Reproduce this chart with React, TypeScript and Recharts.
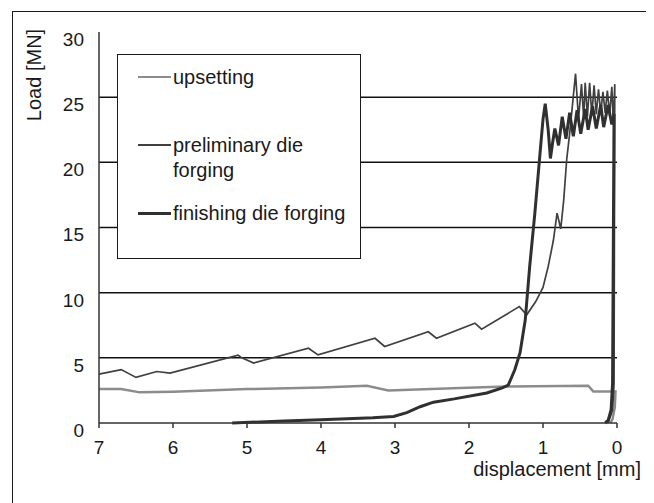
import { LineChart, Line, XAxis, YAxis, ReferenceLine, Label } from 'recharts';

// displacement [mm] / load [MN]
const upsetting = [
  { x: 7.0, y: 2.6 }, { x: 6.7, y: 2.6 }, { x: 6.45, y: 2.35 }, { x: 6.0, y: 2.4 },
  { x: 5.0, y: 2.6 }, { x: 4.0, y: 2.72 }, { x: 3.38, y: 2.86 }, { x: 3.09, y: 2.5 },
  { x: 2.12, y: 2.68 }, { x: 1.5, y: 2.8 }, { x: 0.39, y: 2.86 }, { x: 0.32, y: 2.42 },
  { x: 0.02, y: 2.42 }, { x: 0.03, y: 1.2 }, { x: 0.06, y: 0.3 }, { x: 0.09, y: 0 },
];

const preliminary = [
  { x: 7.0, y: 3.75 }, { x: 6.7, y: 4.1 }, { x: 6.5, y: 3.5 }, { x: 6.22, y: 3.95 },
  { x: 6.04, y: 3.83 }, { x: 5.12, y: 5.2 }, { x: 5.07, y: 5.0 }, { x: 4.91, y: 4.6 },
  { x: 4.17, y: 5.74 }, { x: 4.04, y: 5.23 }, { x: 3.27, y: 6.5 }, { x: 3.14, y: 5.87 },
  { x: 2.55, y: 7.0 }, { x: 2.44, y: 6.5 }, { x: 1.92, y: 7.66 }, { x: 1.83, y: 7.2 },
  { x: 1.32, y: 8.93 }, { x: 1.22, y: 8.3 }, { x: 1.1, y: 9.3 }, { x: 1.0, y: 10.4 },
  { x: 0.93, y: 12.0 }, { x: 0.86, y: 14.0 }, { x: 0.81, y: 16.1 }, { x: 0.76, y: 14.9 },
  { x: 0.72, y: 17.1 }, { x: 0.68, y: 20.2 }, { x: 0.64, y: 22.2 }, { x: 0.6, y: 24.5 },
  { x: 0.56, y: 26.8 }, { x: 0.52, y: 23.3 }, { x: 0.48, y: 26.0 }, { x: 0.45, y: 23.4 },
  { x: 0.43, y: 26.1 }, { x: 0.4, y: 23.5 }, { x: 0.37, y: 26.1 }, { x: 0.34, y: 23.6 },
  { x: 0.31, y: 25.9 }, { x: 0.28, y: 23.7 }, { x: 0.25, y: 25.6 }, { x: 0.22, y: 23.8 },
  { x: 0.19, y: 25.4 }, { x: 0.16, y: 23.8 }, { x: 0.13, y: 25.5 }, { x: 0.1, y: 23.6 },
  { x: 0.07, y: 25.8 }, { x: 0.05, y: 23.0 }, { x: 0.03, y: 26.0 }, { x: 0.04, y: 3.0 },
  { x: 0.06, y: 1.0 }, { x: 0.12, y: 0 },
];

const finishing = [
  { x: 5.2, y: 0 }, { x: 4.5, y: 0.15 }, { x: 4.0, y: 0.25 }, { x: 3.3, y: 0.4 },
  { x: 3.02, y: 0.5 }, { x: 2.84, y: 0.8 }, { x: 2.66, y: 1.25 }, { x: 2.48, y: 1.6 },
  { x: 2.2, y: 1.85 }, { x: 1.76, y: 2.3 }, { x: 1.55, y: 2.7 }, { x: 1.47, y: 2.9 },
  { x: 1.38, y: 4.1 }, { x: 1.31, y: 5.4 }, { x: 1.24, y: 7.9 }, { x: 1.18, y: 12.0 },
  { x: 1.11, y: 16.1 }, { x: 1.04, y: 20.7 }, { x: 1.0, y: 23.3 }, { x: 0.97, y: 24.5 },
  { x: 0.93, y: 22.5 }, { x: 0.9, y: 20.3 }, { x: 0.87, y: 21.5 }, { x: 0.84, y: 22.6 },
  { x: 0.79, y: 21.3 }, { x: 0.74, y: 23.5 }, { x: 0.69, y: 21.8 }, { x: 0.64, y: 23.8 },
  { x: 0.59, y: 22.0 }, { x: 0.54, y: 24.0 }, { x: 0.49, y: 22.2 }, { x: 0.43, y: 24.1 },
  { x: 0.39, y: 22.5 }, { x: 0.33, y: 24.3 }, { x: 0.28, y: 22.6 }, { x: 0.22, y: 24.4 },
  { x: 0.18, y: 22.7 }, { x: 0.12, y: 24.4 }, { x: 0.07, y: 22.9 }, { x: 0.04, y: 23.7 },
  { x: 0.06, y: 3.0 }, { x: 0.08, y: 1.0 }, { x: 0.12, y: 0.2 }, { x: 0.16, y: 0 },
];

const xTicks = [0, 1, 2, 3, 4, 5, 6, 7];
const yTicks = [0, 5, 10, 15, 20, 25, 30];
const gridLevels = [5, 10, 15, 20, 25];

const FONT = '"Liberation Sans", Arial, sans-serif';
const INK = '#1a1a1a';

const series = [
  { key: 'upsetting', data: upsetting, name: 'upsetting', color: '#8c8c8c', width: 2.5 },
  { key: 'preliminary', data: preliminary, name: 'preliminary die forging', color: '#404040', width: 1.7 },
  { key: 'finishing', data: finishing, name: 'finishing die forging', color: '#303030', width: 3 },
];

function YTick({ x, y, payload }: any) {
  return (
    <text x={x} y={y + 7} dy="0.36em" textAnchor="end" fontSize={19} fontFamily={FONT} fill={INK}>
      {payload.value}
    </text>
  );
}

function XTick({ x, y, payload }: any) {
  return (
    <text x={x} y={y} dy="0.72em" textAnchor="middle" fontSize={19} fontFamily={FONT} fill={INK}>
      {payload.value}
    </text>
  );
}

// legend box drawn over the plot, like the original figure
function LegendBox() {
  const row = (top: number, color: string, width: number, lines: string[]) => (
    <div style={{ position: 'absolute', left: 20, top, display: 'flex' }}>
      <div style={{ width: 33, height: width, background: color, marginTop: 12 - width / 2 }} />
      <div style={{ marginLeft: 2, lineHeight: '25px', fontSize: 20 }}>
        {lines.map((l) => (
          <div key={l}>{l}</div>
        ))}
      </div>
    </div>
  );
  return (
    <div
      style={{
        position: 'absolute',
        left: 109,
        top: 46,
        width: 244,
        height: 205,
        boxSizing: 'border-box',
        border: `1.5px solid ${INK}`,
        background: '#fff',
        fontFamily: FONT,
        color: INK,
      }}
    >
      {row(10, series[0].color, 2.5, [series[0].name])}
      {row(78, series[1].color, 1.7, ['preliminary die', 'forging'])}
      {row(146, series[2].color, 3, [series[2].name])}
    </div>
  );
}

export default function App() {
  return (
    <div style={{ position: 'relative', width: 646, height: 495, background: '#fff' }}>
      <div
        style={{
          position: 'absolute',
          left: 4,
          top: 3,
          width: 635,
          height: 520,
          boxSizing: 'border-box',
          border: `1.5px solid ${INK}`,
          borderBottom: 'none',
        }}
      />
      <LineChart width={646} height={495} margin={{ top: 24, right: 37, bottom: 0, left: 0 }}>
        <XAxis
          dataKey="x"
          type="number"
          domain={[0, 7]}
          ticks={xTicks}
          reversed
          height={80}
          tickSize={5}
          tickMargin={12}
          tick={<XTick />}
          stroke="#333"
          strokeWidth={1.5}
        >
          <Label
            content={() => (
              <text x={633} y={461} dy="0.36em" textAnchor="end" fontSize={20} fontFamily={FONT} fill={INK}>
                displacement [mm]
              </text>
            )}
          />
        </XAxis>
        <YAxis
          dataKey="y"
          type="number"
          domain={[0, 30]}
          ticks={yTicks}
          width={91}
          tickLine={false}
          tickSize={0}
          tickMargin={15}
          tick={<YTick />}
          stroke="#333"
          strokeWidth={1.5}
        >
          <Label
            content={() => (
              <text
                x={26}
                y={67}
                dy="0.36em"
                textAnchor="middle"
                fontSize={20}
                fontFamily={FONT}
                fill={INK}
                transform="rotate(-90 26 67)"
              >
                Load [MN]
              </text>
            )}
          />
        </YAxis>
        {gridLevels.map((v) => (
          <ReferenceLine key={v} y={v} stroke="#111" strokeWidth={1.5} />
        ))}
        {series.map((s) => (
          <Line
            key={s.key}
            data={s.data}
            dataKey="y"
            name={s.name}
            type="linear"
            stroke={s.color}
            strokeWidth={s.width}
            dot={false}
            activeDot={false}
            isAnimationActive={false}
          />
        ))}
      </LineChart>
      <LegendBox />
    </div>
  );
}
